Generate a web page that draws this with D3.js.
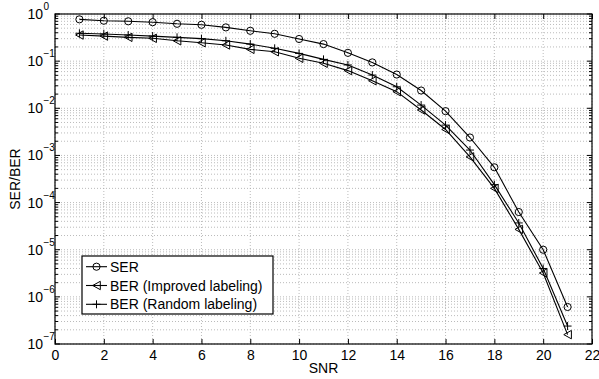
<!DOCTYPE html>
<html><head><meta charset="utf-8">
<script src="https://cdn.jsdelivr.net/npm/d3@7"></script>
<style>body{margin:0;background:#fff}text{font-family:"Liberation Sans",Arial,Helvetica,sans-serif}</style>
</head><body><svg id="c" width="599" height="379"></svg>
<script>
const snr = [1,2,3,4,5,6,7,8,9,10,11,12,13,14,15,16,17,18,19,20,21];
const ser = [0.77,0.72,0.70,0.67,0.62,0.59,0.52,0.44,0.38,0.295,0.23,0.15,0.094,0.052,0.0238,0.0087,0.00240,5.6e-4,6.3e-5,1.0e-5,6.1e-7];
const berImproved = [0.358,0.34,0.32,0.305,0.27,0.246,0.22,0.178,0.158,0.115,0.09,0.063,0.0384,0.0225,0.0092,0.00355,9.3e-4,2.0e-4,2.7e-5,3.2e-6,1.58e-7];
const berRandom = [0.39,0.376,0.358,0.34,0.32,0.30,0.27,0.23,0.187,0.146,0.109,0.083,0.0507,0.0286,0.0117,0.0044,0.0013,2.4e-4,3.7e-5,4.0e-6,2.4e-7];
const xTicks = [0,2,4,6,8,10,12,14,16,18,20,22];
const yExps = [0,-1,-2,-3,-4,-5,-6,-7];
const seriesNames = ["SER","BER (Improved labeling)","BER (Random labeling)"];

const svg = d3.select("#c");
const L=55,R=592,T=14,B=344;
const x = d3.scaleLinear().domain([0,22]).range([L,R]);
const y = d3.scaleLog().domain([1e-7,1]).range([B,T]);

// grid
const g = svg.append("g");
const minorVals = [];
for (let e=-7;e<0;e++) for (let m=1;m<10;m++) minorVals.push(m*Math.pow(10,e));
minorVals.push(1);
g.selectAll("line.hg").data(minorVals).enter().append("line")
 .attr("x1",L).attr("x2",R).attr("y1",d=>y(d)).attr("y2",d=>y(d))
 .attr("stroke","#aaa").attr("stroke-width",0.8).attr("stroke-dasharray","1,2");
g.selectAll("line.vg").data(xTicks).enter().append("line")
 .attr("x1",d=>x(d)).attr("x2",d=>x(d)).attr("y1",T).attr("y2",B)
 .attr("stroke","#aaa").attr("stroke-width",0.8).attr("stroke-dasharray","1,2");

// axes (ticks inward)
const xAxisB = d3.axisBottom(x).tickValues(xTicks).tickSizeInner(-5).tickSizeOuter(0).tickPadding(6);
const xAxisT = d3.axisTop(x).tickValues(xTicks).tickSizeInner(-5).tickSizeOuter(0).tickFormat("");
const yMajor = yExps.map(e=>Math.pow(10,e));
const ax = svg.append("g");
const gb = ax.append("g").attr("transform",`translate(0,${B})`).call(xAxisB);
gb.selectAll("text").attr("font-size",14).attr("fill","#000").attr("font-family","Liberation Sans, Arial");
ax.append("g").attr("transform",`translate(0,${T})`).call(xAxisT);
ax.selectAll(".domain").remove();
ax.selectAll(".tick line").attr("stroke","#000");

// y ticks
const isMajor = d=>yMajor.some(v=>Math.abs(Math.log10(v)-Math.log10(d))<1e-9);
const yt = svg.append("g");
yt.selectAll("line.l").data(minorVals).enter().append("line")
 .attr("x1",L).attr("x2",d=>L+(isMajor(d)?5:3)).attr("y1",d=>y(d)).attr("y2",d=>y(d))
 .attr("stroke","#000").attr("stroke-width",1);
yt.selectAll("line.r").data(minorVals).enter().append("line")
 .attr("x1",R).attr("x2",d=>R-(isMajor(d)?5:3)).attr("y1",d=>y(d)).attr("y2",d=>y(d))
 .attr("stroke","#000").attr("stroke-width",1);
yt.selectAll("text.yl").data(yExps).enter().append("text")
 .attr("x",43).attr("y",e=>y(Math.pow(10,e))+5).attr("text-anchor","end")
 .attr("font-size",14).text("10");
yt.selectAll("text.ye").data(yExps).enter().append("text")
 .attr("x",43.5).attr("y",e=>y(Math.pow(10,e))-4).attr("text-anchor","start")
 .attr("font-size",10).text(e=>e===0?"0":"\u2212"+(-e));

// frame
svg.append("rect").attr("x",L).attr("y",T).attr("width",R-L).attr("height",B-T)
 .attr("fill","none").attr("stroke","#000").attr("stroke-width",1.2);

// labels
svg.append("text").attr("x",(L+R)/2).attr("y",373).attr("text-anchor","middle").attr("font-size",14).text("SNR");
svg.append("text").attr("transform",`translate(20,${(T+B)/2}) rotate(-90)`).attr("text-anchor","middle").attr("font-size",14).text("SER/BER");

// series
const line = d3.line().x(d=>x(d[0])).y(d=>y(d[1]));
const datasets = [ser,berImproved,berRandom].map(arr=>snr.map((s,i)=>[s,arr[i]]));
const plot = svg.append("g");
datasets.forEach(ds=>{
  plot.append("path").datum(ds).attr("d",line).attr("fill","none").attr("stroke","#000").attr("stroke-width",1.1);
});
function marker(sel,type,cx,cy){
  if(type===0) sel.append("circle").attr("cx",cx).attr("cy",cy).attr("r",3.6).attr("fill","none").attr("stroke","#000").attr("stroke-width",1);
  else if(type===1) sel.append("path").attr("d",`M${cx-3.8},${cy}L${cx+3.8},${cy-4.2}L${cx+3.8},${cy+4.2}Z`).attr("fill","none").attr("stroke","#000").attr("stroke-width",1);
  else sel.append("path").attr("d",`M${cx-4},${cy}H${cx+4}M${cx},${cy-4}V${cy+4}`).attr("stroke","#000").attr("stroke-width",1);
}
datasets.forEach((ds,k)=>{ ds.forEach(d=>marker(plot,k,x(d[0]),y(d[1]))); });

// legend
const lg = svg.append("g");
lg.append("rect").attr("x",82).attr("y",256).attr("width",191).attr("height",58).attr("fill","#fff").attr("stroke","#000").attr("stroke-width",1.2);
seriesNames.forEach((n,i)=>{
  const cy = 266.7 + i*18.8;
  lg.append("line").attr("x1",86).attr("x2",107).attr("y1",cy).attr("y2",cy).attr("stroke","#000").attr("stroke-width",1.1);
  marker(lg,i,96.5,cy);
  lg.append("text").attr("x",110).attr("y",cy+5).attr("font-size",14).text(n);
});
</script></body></html>
